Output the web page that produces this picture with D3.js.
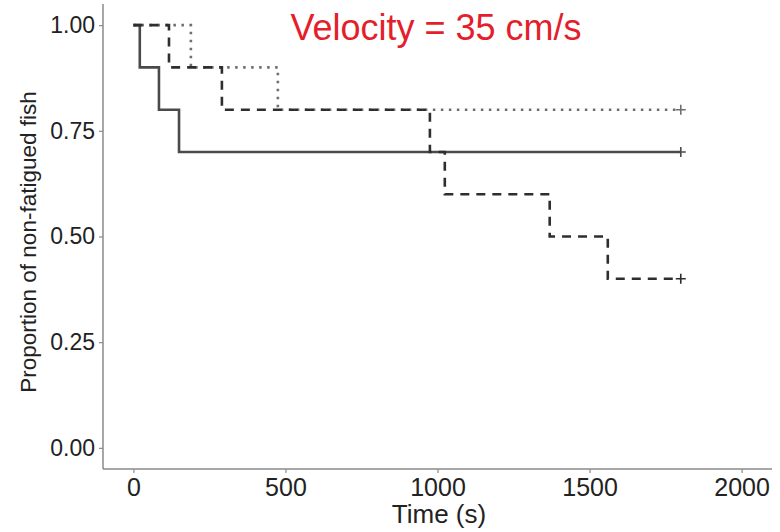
<!DOCTYPE html>
<html>
<head>
<meta charset="utf-8">
<script src="https://cdn.jsdelivr.net/npm/d3@7"></script>
<style>
  body { margin: 0; background: #fff; }
  svg { display: block; font-family: "Liberation Sans", Arial, sans-serif; }
</style>
</head>
<body>
<svg id="chart" width="780" height="532"></svg>
<script>
// survival curves (Kaplan-Meier steps), time in seconds
var solidTimes  = [0, 21, 84, 150, 1800];
var solidSurv   = [1.0, 0.9, 0.8, 0.7, 0.7];
var dashedTimes = [0, 117, 291, 975, 1024, 1369, 1560, 1800];
var dashedSurv  = [1.0, 0.9, 0.8, 0.7, 0.6, 0.5, 0.4, 0.4];
var dottedTimes = [0, 189, 475, 1800];
var dottedSurv  = [1.0, 0.9, 0.8, 0.8];

var xTicks = [0, 500, 1000, 1500, 2000];
var yTicks = [0, 0.25, 0.5, 0.75, 1.0];

var titleText = "Velocity = 35 cm/s";
var xLabel = "Time (s)";
var yLabel = "Proportion of non-fatigued fish";

var svg = d3.select("#chart");

// panel config
var panelLeft = 103, panelRight = 772, panelTop = 4, panelBottom = 469;
var axisColor = "#8a8a8a";
var textColor = "#222";

var x = d3.scaleLinear().domain([-100, 2100]).range([panelLeft, panelRight]);
var y = d3.scaleLinear().domain([-0.05, 1.05]).range([panelBottom, panelTop]);

// axes
var xAxis = svg.append("g")
    .attr("transform", "translate(0," + panelBottom + ")")
    .call(d3.axisBottom(x).tickValues(xTicks).tickFormat(d3.format("d")).tickSize(4).tickPadding(5));
var yAxis = svg.append("g")
    .attr("transform", "translate(" + panelLeft + ",0)")
    .call(d3.axisLeft(y).tickValues(yTicks).tickFormat(d3.format(".2f")).tickSize(4).tickPadding(4));

[xAxis, yAxis].forEach(function(a) {
    a.select(".domain").remove();
    a.selectAll(".tick line").attr("stroke", axisColor).attr("stroke-width", 1.2);
    a.selectAll(".tick text")
        .attr("fill", textColor)
        .style("font-family", "Liberation Sans, Arial, sans-serif");
});
xAxis.selectAll(".tick text").style("font-size", "25px");
yAxis.selectAll(".tick text").style("font-size", "23px");

// axis lines
svg.append("line")
    .attr("x1", panelLeft).attr("x2", panelLeft)
    .attr("y1", panelTop).attr("y2", panelBottom)
    .attr("stroke", axisColor).attr("stroke-width", 1.5);
svg.append("line")
    .attr("x1", panelLeft).attr("x2", panelRight)
    .attr("y1", panelBottom).attr("y2", panelBottom)
    .attr("stroke", axisColor).attr("stroke-width", 1.5);

// curves
var series = [
    {times: dottedTimes, surv: dottedSurv, color: "#6e6e6e", dash: "2.5,5.5"},
    {times: solidTimes,  surv: solidSurv,  color: "#4a4a4a", dash: null},
    {times: dashedTimes, surv: dashedSurv, color: "#2e2e2e", dash: "9,7"}
];

var stepLine = d3.line()
    .x(function(d) { return x(d[0]); })
    .y(function(d) { return y(d[1]); })
    .curve(d3.curveStepAfter);

series.forEach(function(s) {
    var pts = s.times.map(function(t, i) { return [t, s.surv[i]]; });
    svg.append("path")
        .datum(pts)
        .attr("d", stepLine)
        .attr("fill", "none")
        .attr("stroke", s.color)
        .attr("stroke-width", 2.6)
        .attr("stroke-dasharray", s.dash);

    // censor mark at last time
    var last = pts[pts.length - 1];
    var cx = x(last[0]), cy = y(last[1]);
    svg.append("path")
        .attr("d", "M" + (cx - 5) + "," + cy + "H" + (cx + 5) + "M" + cx + "," + (cy - 5) + "V" + (cy + 5))
        .attr("stroke", s.color)
        .attr("stroke-width", 1.6)
        .attr("fill", "none");
});

// title
svg.append("text")
    .attr("x", 436)
    .attr("y", 40)
    .attr("text-anchor", "middle")
    .attr("fill", "#e41e2b")
    .style("font-size", "36px")
    .text(titleText);

// axis labels
svg.append("text")
    .attr("x", 439)
    .attr("y", 523)
    .attr("text-anchor", "middle")
    .attr("fill", textColor)
    .style("font-size", "26px")
    .text(xLabel);

svg.append("text")
    .attr("transform", "translate(36," + 242 + ") rotate(-90)")
    .attr("text-anchor", "middle")
    .attr("fill", textColor)
    .style("font-size", "22.5px")
    .text(yLabel);
</script>
</body>
</html>
